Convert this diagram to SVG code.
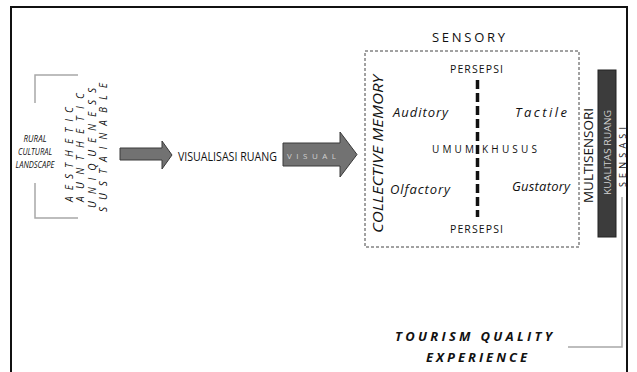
<svg xmlns="http://www.w3.org/2000/svg" width="637" height="372" viewBox="0 0 637 372">
<style>
text{font-family:"Open Sans","Liberation Sans",sans-serif;fill:#111}
.it{font-style:italic}
.bi{font-style:italic;font-weight:bold}
.gl{fill:none;stroke:#a8a8a8;stroke-width:1.5}
.arr{fill:#727272;stroke:#3a3a3a;stroke-width:1}
.lt{fill:#d0d0d0}
</style>
<rect width="637" height="372" fill="#fff"/>
<path d="M11,380 V7 H627 V380" fill="none" stroke="#111" stroke-width="2"/>

<g id="rural">
<path class="gl" d="M78,75 H35 V103 M35,183 V218 H78"/>
<text class="it" font-size="9" text-anchor="middle" x="35" y="142" textLength="23" lengthAdjust="spacingAndGlyphs">RURAL</text>
<text class="it" font-size="9" text-anchor="middle" x="35" y="155" textLength="34" lengthAdjust="spacingAndGlyphs">CULTURAL</text>
<text class="it" font-size="9" text-anchor="middle" x="35" y="168" textLength="39" lengthAdjust="spacingAndGlyphs">LANDSCAPE</text>
</g>

<g id="values">
<text class="it" font-size="10" transform="translate(73,202) rotate(-90)" textLength="95" lengthAdjust="spacing">AESTHETIC</text>
<text class="it" font-size="10" transform="translate(84,202) rotate(-90)" textLength="109" lengthAdjust="spacing">AUNTHETIC</text>
<text class="it" font-size="10" transform="translate(96,208) rotate(-90)" textLength="120" lengthAdjust="spacing">UNIQUENESS</text>
<text class="it" font-size="10" transform="translate(107,212) rotate(-90)" textLength="129" lengthAdjust="spacing">SUSTAINABLE</text>
</g>

<g id="connectors">
<polygon class="arr" points="120,148 162,148 162,141 172,155 162,169 162,160 120,160"/>
<polygon class="arr" points="283,143 340,143 340,132 357,154.5 340,177 340,166 283,166"/>
</g>

<g id="visualisasi">
<text font-size="12.5" transform="translate(178,161) scale(0.85,1)">VISUALISASI RUANG</text>
</g>

<g id="visual">
<text class="lt" font-size="8" x="287" y="158.5" textLength="49" lengthAdjust="spacing">VISUAL</text>
</g>

<g id="sensory">
<text font-size="13" x="432" y="42" textLength="73" lengthAdjust="spacing">SENSORY</text>
<rect x="365" y="51" width="214" height="196" fill="none" stroke="#444" stroke-width="1" stroke-dasharray="3,2"/>
<line x1="477.5" y1="80" x2="477.5" y2="217" stroke="#111" stroke-width="3.5" stroke-dasharray="9,4"/>
<text font-size="10.5" x="450" y="73" textLength="53" lengthAdjust="spacing">PERSEPSI</text>
<text font-size="10.5" x="450" y="233" textLength="53" lengthAdjust="spacing">PERSEPSI</text>
<text class="it" font-size="13" x="393" y="117" textLength="55" lengthAdjust="spacing">Auditory</text>
<text class="it" font-size="13" x="515" y="117" textLength="52" lengthAdjust="spacing">Tactile</text>
<text class="it" font-size="13" x="390" y="194" textLength="60" lengthAdjust="spacing">Olfactory</text>
<text class="it" font-size="13" x="512" y="191" textLength="58" lengthAdjust="spacing">Gustatory</text>
<text font-size="10" x="432" y="153" textLength="42" lengthAdjust="spacing">UMUM</text>
<text font-size="10" x="482" y="153" textLength="55" lengthAdjust="spacing">KHUSUS</text>
<text class="it" font-size="14" transform="translate(383,233) rotate(-90)" textLength="158" lengthAdjust="spacingAndGlyphs">COLLECTIVE MEMORY</text>
</g>

<g id="multisensori">
<text font-size="12" transform="translate(593,203) rotate(-90)" textLength="95" lengthAdjust="spacingAndGlyphs">MULTISENSORI</text>
</g>

<g id="kualitas">
<rect x="598" y="70" width="18" height="167" fill="#3c3c3c" stroke="#222" stroke-width="1"/>
<text class="lt" font-size="8.5" transform="translate(611,195) rotate(-90)" textLength="85" lengthAdjust="spacingAndGlyphs">KUALITAS RUANG</text>
</g>

<g id="sensasi">
<text font-size="9" transform="translate(626,187) rotate(-90)" textLength="60" lengthAdjust="spacing">SENSASI</text>
<path class="gl" d="M622,197 V347 H568"/>
</g>

<g id="tourism">
<text class="bi" font-size="13" x="395" y="341" textLength="157" lengthAdjust="spacing">TOURISM QUALITY</text>
<text class="bi" font-size="13" x="426" y="362" textLength="101" lengthAdjust="spacing">EXPERIENCE</text>
</g>
</svg>
